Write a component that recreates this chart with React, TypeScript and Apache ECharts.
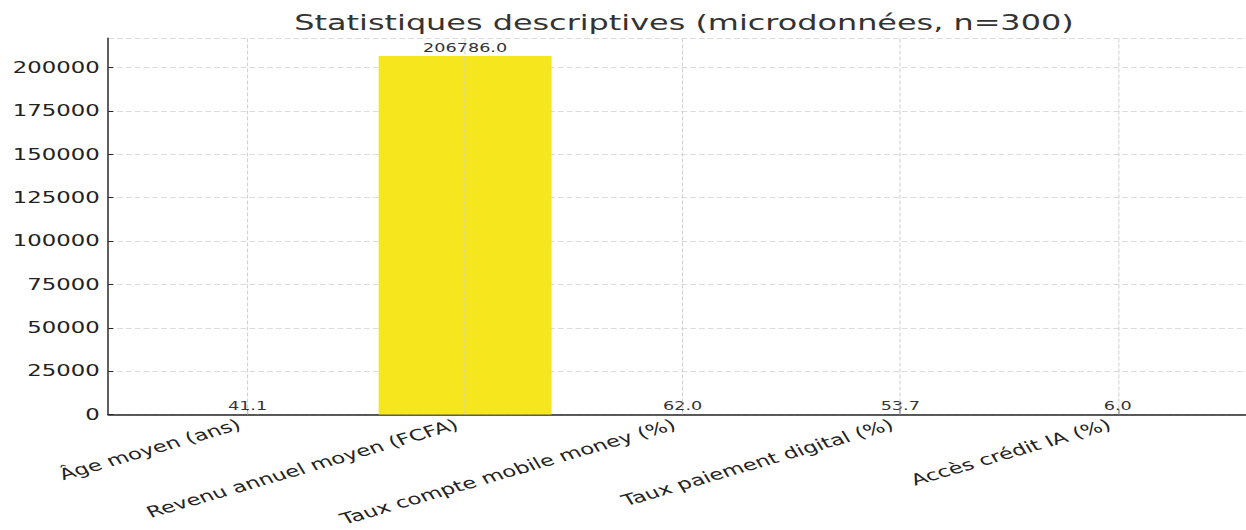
import React, { useEffect, useRef } from "react";
import * as echarts from "echarts";

const categories = [
  "Âge moyen (ans)",
  "Revenu annuel moyen (FCFA)",
  "Taux compte mobile money (%)",
  "Taux paiement digital (%)",
  "Accès crédit IA (%)",
];
const values = [41.1, 206786.0, 62.0, 53.7, 6.0];
const barColors = ["#440154", "#f5e61e", "#440154", "#440154", "#440154"];
const yTicks = [0, 25000, 50000, 75000, 100000, 125000, 150000, 175000, 200000];
const title = "Statistiques descriptives (microdonnées, n=300)";

const S = 1.4693; // horizontal stretch of the reference
const W = 848;
const H = 530;
const FONT = "DejaVu Sans";

export default function App() {
  const ref = useRef<HTMLDivElement>(null);
  useEffect(() => {
    if (!ref.current) return;
    const chart = echarts.init(ref.current, undefined, { renderer: "svg" });
    const idx = categories.map((_, i) => i);
    chart.setOption({
      animation: false,
      title: {
        text: title,
        left: 460.5,
        textAlign: "center",
        top: 6,
        textStyle: { fontFamily: FONT, fontSize: 21.7, fontWeight: "normal", color: "#333" },
      },
      grid: {
        left: 73.7,
        right: 0,
        top: 38,
        bottom: 115.5,
        containLabel: false,
        outerBoundsMode: "none",
      },
      xAxis: {
        type: "value",
        min: -0.64,
        max: 4.589,
        splitLine: { show: false },
        axisLine: { show: true, onZero: false, lineStyle: { color: "#262626", width: 1.5 } },
        axisTick: {
          show: true,
          inside: true,
          length: 5,
          customValues: idx,
          lineStyle: { color: "#262626", width: 0.7 },
        },
        axisLabel: {
          customValues: idx,
          rotate: 23,
          margin: 7,
          padding: [0, 6, 0, 0],
          fontFamily: FONT,
          fontSize: 15.5,
          color: "#222",
          formatter: (v: number) => categories[Math.round(v)] ?? "",
        },
      },
      yAxis: {
        type: "value",
        min: 0,
        max: 217125,
        interval: 25000,
        axisLine: { show: true, onZero: false, lineStyle: { color: "#262626", width: 1.0 } },
        axisTick: { show: true, inside: true, length: 3.4, lineStyle: { color: "#262626", width: 1 } },
        axisLabel: {
          margin: 5.8,
          fontFamily: FONT,
          fontSize: 15.5,
          color: "#222",
          showMaxLabel: false,
          formatter: (v: number) => (yTicks.includes(v) ? String(v) : ""),
        },
        splitLine: { show: true, lineStyle: { color: "#dcdcdc", type: [4, 2], width: 1 } },
      },
      series: [
        {
          type: "bar",
          barWidth: 117.7,
          data: values.map((v, i) => ({
            value: [i, v],
            itemStyle: { color: barColors[i] },
          })),
          label: {
            show: true,
            position: "top",
            distance: 2,
            fontFamily: FONT,
            fontSize: 12,
            color: "#333",
            formatter: (p: any) => Number(p.value[1]).toFixed(1),
          },
          markLine: {
            silent: true,
            symbol: ["none", "none"],
            label: { show: false },
            lineStyle: { color: "#cfcfcf", type: [4, 2], width: 0.7 },
            data: idx.map((i) => ({ xAxis: i })),
          },
        },
      ],
    });
    return () => chart.dispose();
  }, []);
  return (
    <div
      ref={ref}
      style={{
        position: "absolute",
        left: 0,
        top: 0,
        width: W,
        height: H,
        transform: `scaleX(${S})`,
        transformOrigin: "0 0",
        background: "#fff",
      }}
    />
  );
}
